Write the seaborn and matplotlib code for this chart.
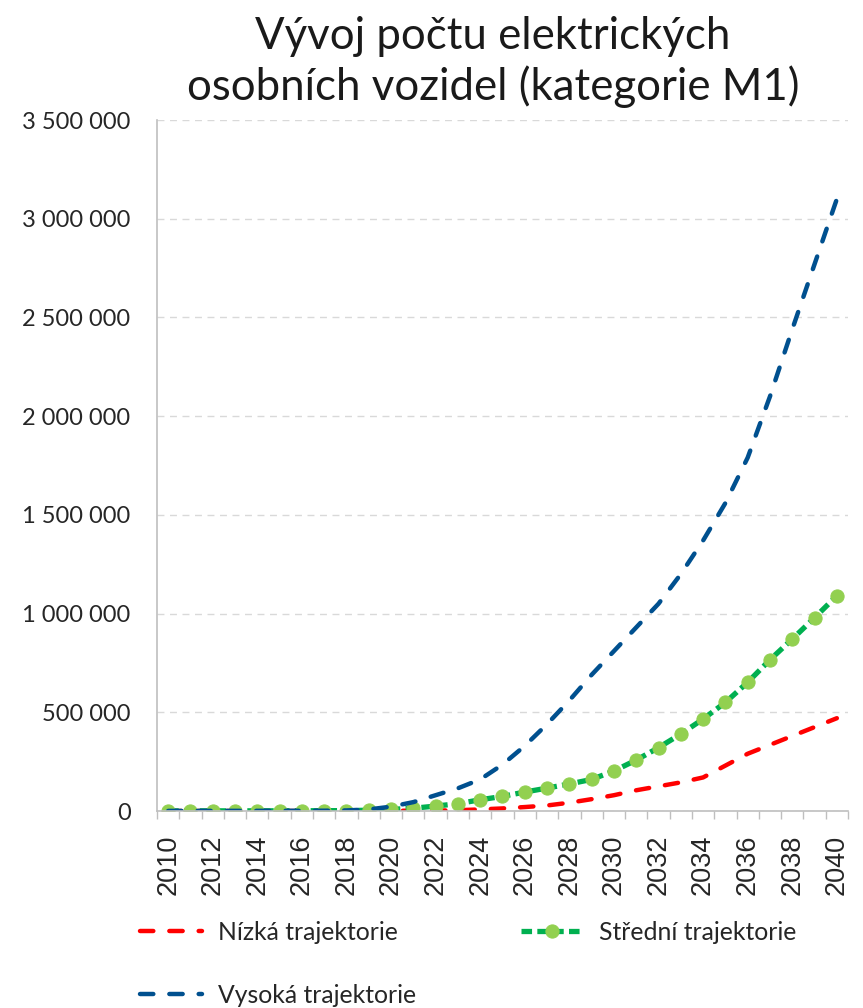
import matplotlib
matplotlib.use("Agg")
import matplotlib.pyplot as plt
from matplotlib.ticker import FuncFormatter, MultipleLocator
import pandas as pd
import seaborn as sns

sns.set_theme(style="white")
plt.rcParams['font.family'] = ['Lato', 'DejaVu Sans']

years = list(range(2010, 2041))

nizka = [0, 0, 0, 0, 0, 0, 0, 0, 0, 500, 1000, 1500, 2000, 4000, 8000,
         13000, 20000, 28000, 42000, 60000, 80000, 105000, 125000, 145000, 170000,
         230000, 290000, 335000, 380000, 425000, 470000]
stredni = [500, 600, 700, 800, 900, 1000, 1200, 1500, 2000, 4000, 8000,
           14000, 25000, 37000, 57000, 74000, 96000, 116000, 137000, 160000, 203000,
           258000, 321000, 390000, 466000, 550000, 652000, 766000, 871000, 979000, 1090000]
vysoka = [500, 600, 700, 800, 900, 1000, 1200, 1500, 3000, 8000, 22000,
          45000, 80000, 115000, 160000, 235000, 330000, 440000, 560000, 690000, 810000,
          930000, 1050000, 1200000, 1370000, 1560000, 1790000, 2100000, 2440000, 2770000, 3100000]

df = pd.DataFrame({"rok": years, "Nízká trajektorie": nizka,
                   "Střední trajektorie": stredni, "Vysoká trajektorie": vysoka})

fig = plt.figure(figsize=(8.63, 10.08), dpi=100)
ax = fig.add_axes([157 / 863, 1 - 811 / 1008, 691 / 863, 691 / 1008])

sns.lineplot(data=df, x="rok", y="Nízká trajektorie", ax=ax, color="#FF0000",
             linewidth=3.2, linestyle=(0, (3.0, 3.6)), dash_capstyle="round",
             label="Nízká trajektorie")
sns.lineplot(data=df, x="rok", y="Střední trajektorie", ax=ax, color="#00B050",
             linewidth=3.8, linestyle=(0, (2.0, 1.0)), marker="o", markersize=9.5,
             markerfacecolor="#92D050", markeredgecolor="#92D050",
             label="Střední trajektorie")
sns.lineplot(data=df, x="rok", y="Vysoká trajektorie", ax=ax, color="#00508F",
             linewidth=3.2, linestyle=(0, (3.0, 3.6)), dash_capstyle="round",
             label="Vysoká trajektorie")

ax.set_xlim(2009.5, 2040.5)
ax.set_ylim(0, 3500000)
ax.set_xlabel("")
ax.set_ylabel("")

ax.yaxis.set_major_locator(MultipleLocator(500000))
ax.yaxis.set_major_formatter(FuncFormatter(lambda v, p: f"{v:,.0f}".replace(",", " ")))
ax.set_xticks(years[::2])
ax.set_xticks([y + 0.5 for y in range(2009, 2041)], minor=True)
ax.tick_params(axis="y", length=0, pad=19, labelsize=17)
ax.tick_params(axis="x", which="major", length=0, pad=17, labelsize=19.5,
               labelrotation=90, labelfontfamily="Liberation Sans")
ax.tick_params(axis="x", which="minor", length=6, width=1, color="#BFBFBF", bottom=True)

ax.grid(axis="y", color="#D9D9D9", linewidth=1, linestyle=(0, (5, 4)))
ax.grid(axis="x", visible=False)
for side in ["top", "right"]:
    ax.spines[side].set_visible(False)
for side in ["left", "bottom"]:
    ax.spines[side].set_color("#BFBFBF")
    ax.spines[side].set_linewidth(1.2)

ax.set_title("Vývoj počtu elektrických\nosobních vozidel (kategorie M1)",
             fontsize=31.5, pad=14.5, linespacing=1.25, color="#1a1a1a", x=0.486)

h, l = ax.get_legend_handles_labels()
order = [0, 2, 1]
ax.legend([h[i] for i in order], [l[i] for i in order], ncol=2, frameon=False,
          loc="upper left", bbox_to_anchor=(140 / 863, 1 - 921 / 1008),
          bbox_transform=fig.transFigure, borderpad=0, borderaxespad=0,
          fontsize=17.8, handlelength=2.5, handletextpad=0.65,
          columnspacing=4.25, labelspacing=1.6)

fig.savefig("out.png", dpi=100)
